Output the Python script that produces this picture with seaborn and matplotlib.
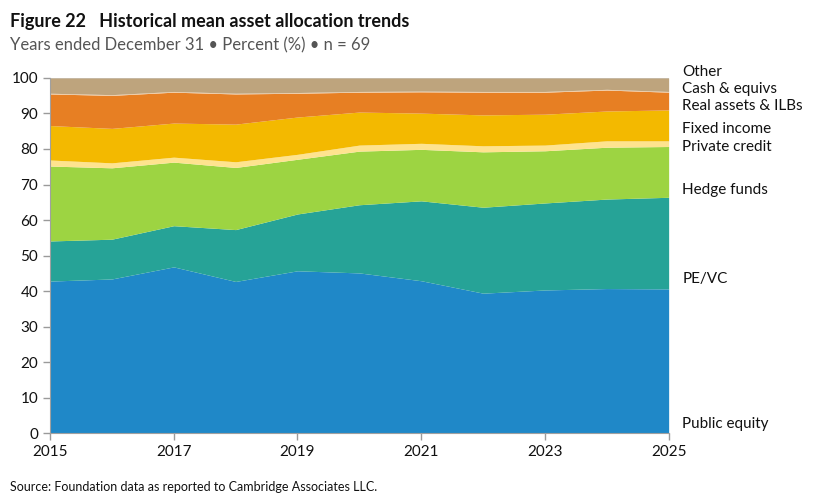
import matplotlib
matplotlib.use("Agg")
import matplotlib.pyplot as plt
import pandas as pd
import seaborn as sns

sns.set_style("ticks")
plt.rcParams['font.family'] = ['Lato', 'DejaVu Sans']

years = list(range(2015, 2026))
public_equity = [42.8, 43.4, 46.8, 42.7, 45.7, 45.1, 42.9, 39.4, 40.3, 40.7, 40.6]
pe_vc = [11.3, 11.2, 11.6, 14.6, 16.0, 19.2, 22.5, 24.2, 24.5, 25.2, 25.8]
hedge_funds = [21.1, 20.1, 17.9, 17.5, 15.4, 15.1, 14.5, 15.6, 14.7, 14.6, 14.3]
private_credit = [1.7, 1.4, 1.4, 1.6, 1.4, 1.7, 1.7, 1.7, 1.6, 1.8, 1.6]
fixed_income = [9.7, 9.7, 9.6, 10.6, 10.5, 9.3, 8.5, 8.7, 8.7, 8.4, 8.7]
real_assets = [8.9, 9.3, 8.7, 8.5, 6.7, 5.6, 6.0, 6.4, 6.2, 5.9, 5.0]
cash = [0.2, 0.2, 0.2, 0.2, 0.2, 0.2, 0.2, 0.2, 0.2, 0.2, 0.2]
other = [4.3, 4.7, 3.8, 4.3, 4.1, 3.8, 3.7, 3.8, 3.8, 3.2, 3.8]

alloc_df = pd.DataFrame({
    'Public equity': public_equity,
    'PE/VC': pe_vc,
    'Hedge funds': hedge_funds,
    'Private credit': private_credit,
    'Fixed income': fixed_income,
    'Real assets & ILBs': real_assets,
    'Cash & equivs': cash,
    'Other': other,
}, index=years)

colors = ['#1f88c8', '#26a397', '#9dd442', '#fee38f', '#f3b900',
          '#e77f23', '#eec9a0', '#bea47d']

# where the right-hand labels sit (data units)
label_y = {
    'Public equity': 2.5,
    'PE/VC': 43.5,
    'Hedge funds': 68.5,
    'Private credit': 80.5,
    'Fixed income': 85.5,
    'Real assets & ILBs': 92.2,
    'Cash & equivs': 96.8,
    'Other': 101.7,
}

fig = plt.figure(figsize=(8.26, 5.03), dpi=100)
ax = fig.add_axes([0.0605, 0.139, 0.749, 0.706])

ax.stackplot(alloc_df.index, alloc_df.T.values, colors=colors, linewidth=0)
ax.axhline(100, color='#d0d0d0', lw=1, zorder=0)

ax.set_xlim(2015, 2025)
ax.set_ylim(0, 100)
ax.set_xticks(range(2015, 2026, 2))
ax.set_yticks(range(0, 101, 10))
ax.tick_params(axis='both', colors='#9a9a9a', labelcolor='#111111',
               labelsize=11, length=5, width=1)
sns.despine(ax=ax, top=True, right=True)
for side in ['left', 'bottom']:
    ax.spines[side].set_color('#a0a0a0')

for name, yv in label_y.items():
    ax.text(2025.22, yv, name, fontsize=11, color='#111111',
            va='center', ha='left', clip_on=False)

fig.text(0.012, 0.958, 'Figure 22   Historical mean asset allocation trends',
         fontsize=13, fontweight='bold', color='#111111', va='center')
fig.text(0.012, 0.909, 'Years ended December 31 \u2022 Percent (%) \u2022 n = 69',
         fontsize=12, color='#555555', va='center')
fig.text(0.012, 0.031, 'Source: Foundation data as reported to Cambridge Associates LLC.',
         fontsize=9, color='#111111', va='center')

fig.savefig('out.png', dpi=100)
